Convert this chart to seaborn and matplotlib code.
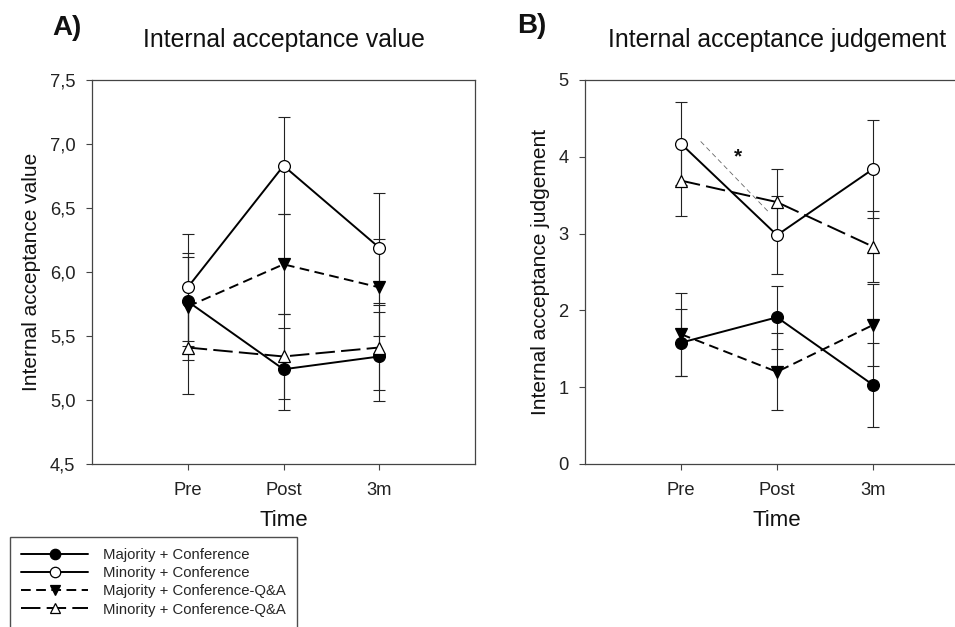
import numpy as np
import pandas as pd
import matplotlib
matplotlib.use("Agg")
import matplotlib.pyplot as plt
from matplotlib.ticker import FuncFormatter
import seaborn as sns

# x categories
time_labels = ["Pre", "Post", "3m"]
time_pos = [1, 2, 3]

group_names = [
    "Majority + Conference",
    "Minority + Conference",
    "Majority + Conference-Q&A",
    "Minority + Conference-Q&A",
]

# Panel A: internal acceptance value (mean, error)
value_maj_conf = [5.77, 5.24, 5.34]
value_maj_conf_err = [0.35, 0.32, 0.35]
value_min_conf = [5.88, 6.83, 6.19]
value_min_conf_err = [0.42, 0.38, 0.43]
value_maj_qa = [5.73, 6.06, 5.88]
value_maj_qa_err = [0.42, 0.39, 0.38]
value_min_qa = [5.41, 5.34, 5.41]
value_min_qa_err = [0.36, 0.33, 0.33]

# Panel B: internal acceptance judgement (mean, error)
judge_maj_conf = [1.58, 1.91, 1.03]
judge_maj_conf_err = [0.44, 0.41, 0.55]
judge_min_conf = [4.17, 2.98, 3.84]
judge_min_conf_err = [0.54, 0.51, 0.64]
judge_maj_qa = [1.69, 1.20, 1.81]
judge_maj_qa_err = [0.54, 0.50, 0.53]
judge_min_qa = [3.69, 3.41, 2.83]
judge_min_qa_err = [0.46, 0.43, 0.46]

# significance bracket in panel B (Pre -> Post, minority + conference)
sig_x = [1.205, 1.906]
sig_y = [4.20, 3.29]
sig_star = (1.594, 4.0)

sns.set_style("white")
plt.rcParams["font.family"] = ["Liberation Sans", "DejaVu Sans"]

# marker / line style per group
styles = [
    dict(marker="o", mfc="black", ls="-"),
    dict(marker="o", mfc="white", ls="-"),
    dict(marker="v", mfc="black", ls=(0, (5.0, 2.8))),
    dict(marker="^", mfc="white", ls=(0, (10.0, 3.2))),
]


def draw_panel(ax, means, errs, ylim, yticks, ylabel, title, fmt):
    for name, m, e, st in zip(group_names, means, errs, styles):
        ax.errorbar(time_pos, m, yerr=e, fmt="none", ecolor="#222222",
                    elinewidth=0.8, capsize=4.5, capthick=0.8, zorder=2)
    for name, m, e, st in zip(group_names, means, errs, styles):
        df = pd.DataFrame({"time": time_pos, "val": m})
        sns.lineplot(data=df, x="time", y="val", ax=ax, color="black",
                     linewidth=1.4, linestyle=st["ls"], marker=st["marker"],
                     markersize=8.5, markerfacecolor=st["mfc"],
                     markeredgecolor="black", markeredgewidth=0.9,
                     label=name, legend=False, errorbar=None, zorder=3)
    ax.set_xlim(0, 4)
    ax.set_ylim(*ylim)
    ax.set_xticks(time_pos)
    ax.set_xticklabels(time_labels)
    ax.set_yticks(yticks)
    ax.yaxis.set_major_formatter(FuncFormatter(fmt))
    ax.tick_params(axis="both", which="both", direction="out", length=4,
                   width=0.8, color="#444444", labelsize=13.2,
                   labelcolor="#222222", left=True, bottom=True, pad=8)
    ax.tick_params(axis="x", pad=9)
    for sp in ax.spines.values():
        sp.set_color("#444444")
        sp.set_linewidth(0.9)
        sp.set_visible(True)
    ax.set_xlabel("Time", fontsize=16, color="#111111", labelpad=8)
    ax.set_ylabel(ylabel, fontsize=15, color="#111111", labelpad=6)
    ax.text(0.5, 1.104, title, transform=ax.transAxes, ha="center",
            va="center", fontsize=17.8, color="#111111")


fig = plt.figure(figsize=(9.55, 6.27), dpi=100)
axA = fig.add_axes([92 / 955, 1 - 464 / 627, 383 / 955, 384 / 627])
axB = fig.add_axes([585 / 955, 1 - 464 / 627, 384 / 955, 384 / 627])

draw_panel(axA,
           [value_maj_conf, value_min_conf, value_maj_qa, value_min_qa],
           [value_maj_conf_err, value_min_conf_err, value_maj_qa_err, value_min_qa_err],
           (4.5, 7.5), np.arange(4.5, 7.51, 0.5), "Internal acceptance value",
           "Internal acceptance value",
           lambda v, p: f"{v:.1f}".replace(".", ","))
draw_panel(axB,
           [judge_maj_conf, judge_min_conf, judge_maj_qa, judge_min_qa],
           [judge_maj_conf_err, judge_min_conf_err, judge_maj_qa_err, judge_min_qa_err],
           (0, 5), np.arange(0, 6, 1), "Internal acceptance judgement",
           "Internal acceptance judgement",
           lambda v, p: f"{v:.0f}")

# significance marker in panel B
axB.plot(sig_x, sig_y, color="#666666", lw=0.6, ls=(0, (6, 4)), zorder=1)
axB.text(*sig_star, "*", fontsize=15, fontweight="bold", ha="center",
         va="center", color="#111111")

fig.text(52 / 955, 1 - 28 / 627, "A)", fontsize=20, fontweight="bold",
         ha="left", va="center", color="#111111")
fig.text(517 / 955, 1 - 26 / 627, "B)", fontsize=20, fontweight="bold",
         ha="left", va="center", color="#111111")

handles, labels = axA.get_legend_handles_labels()
leg = fig.legend(handles, labels, loc="upper left",
                 bbox_to_anchor=(10 / 955, 1 - 537 / 627), fontsize=10.7,
                 frameon=True, fancybox=False, edgecolor="#222222",
                 handlelength=4.5, handletextpad=1.0, labelspacing=0.28,
                 borderpad=0.75, borderaxespad=0, numpoints=1)
leg.get_frame().set_linewidth(1.0)
for h in leg.legend_handles:
    h.set_markersize(7.5)

fig.savefig("out.png", dpi=100)
